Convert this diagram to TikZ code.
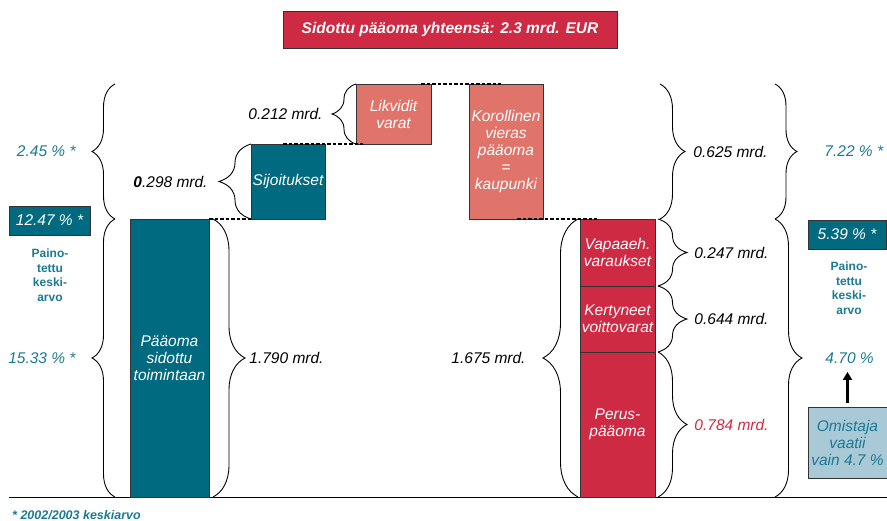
\documentclass[tikz,border=0pt]{standalone}
\usepackage{fontspec}
\setmainfont{Liberation Sans}
\usepackage{xcolor}
\usetikzlibrary{arrows.meta,positioning,calc,decorations.pathreplacing}
\definecolor{cTeal}{HTML}{006A80}
\definecolor{cSalmon}{HTML}{E0746A}
\definecolor{cRed}{HTML}{CF2A43}
\definecolor{cPale}{HTML}{A9C9D6}
\definecolor{cTealTxt}{HTML}{1B7A93}
\definecolor{cEdge}{HTML}{333333}
\tikzset{
  box/.style={draw=cEdge, line width=0.8pt, inner sep=0pt, outer sep=0pt,
              align=center, text=white, anchor=north west,
              font=\fontsize{15.5}{17}\selectfont\itshape},
  tealbox/.style={box, fill=cTeal},
  salbox/.style={box, fill=cSalmon},
  redbox/.style={box, fill=cRed},
  palebox/.style={box, fill=cPale, text=cTealTxt},
  lbl/.style={font=\fontsize{15.5}{17}\selectfont\itshape, inner sep=0pt, text=black},
  pct/.style={lbl, text=cTealTxt},
  avg/.style={font=\fontsize{12}{14.5}\selectfont\bfseries, text=cTealTxt,
              align=center, inner sep=0pt},
  brc/.style={decorate, decoration={brace, amplitude=#1}, line width=0.9pt},
  brc/.default=25,
  link/.style={line width=1.6pt, dash pattern=on 3.5pt off 2pt},
  arr/.style={-{Triangle[length=8pt, width=9pt]}, line width=2.8pt}
}

\begin{document}
\begin{tikzpicture}[x=1pt, y=-1pt]
\useasboundingbox (0,0) rectangle (887,521);
% title
\node[redbox, minimum width=334, minimum height=37,
      font=\fontsize{15.5}{17}\selectfont\bfseries\itshape] (title) at (283,11)
  {Sidottu pääoma yhteensä: 2.3 mrd. EUR};
% base line
\draw[line width=0.9pt] (9,497) -- (887,497);
% assets side
\node[tealbox, minimum width=79, minimum height=278] (bar) at (130,219) {Pääoma\\sidottu\\toimintaan};
\node[tealbox, minimum width=74, minimum height=75] (sijo) at (251,144) {Sijoitukset};
\node[salbox, minimum width=75, minimum height=60] (likv) at (356,84) {Likvidit\\varat};
% liabilities side
\node[salbox, minimum width=74, minimum height=135] (koro) at (469,84) {Korollinen\\vieras\\pääoma\\=\\kaupunki};
\node[redbox, minimum width=75, minimum height=67] (vap) at (580,219) {Vapaaeh.\\varaukset};
\node[redbox, minimum width=75, minimum height=66, below=0pt of vap] (kert) {Kertyneet\\voittovarat};
\node[redbox, minimum width=75, minimum height=145, below=0pt of kert] (perus) {Perus-\\pääoma};
% dashed steps
\draw[link] (bar.north east) -- (sijo.south west);
\draw[link] ($(sijo.north east)+(-42,0)$) -- ($(likv.south west)+(7,0)$);
\draw[link] ($(likv.north east)+(-10,0)$) -- ($(koro.north west)+(32,0)$);
\draw[link] ($(koro.south east)+(-26,0)$) -- ($(vap.north west)+(17,0)$);
% braces, left
\draw[brc=23] (115,219) -- (115,84) node[midway, pct, left=39pt] (r245) {2.45 \% *};
\draw[brc=23] (115,497) -- (115,219) node[midway, pct, left=39pt] (r1533) {15.33 \% *};
\draw[brc=32] ([xshift=4pt]bar.north east) -- ([xshift=4pt]bar.south east)
  node[midway, lbl, right=36pt] (m1790) {1.790 mrd.};
\draw[brc=32] (sijo.south west) -- (sijo.north west)
  node[midway, lbl, left=43pt] (m298) {\textbf{0}.298 mrd.};
\draw[brc=24] (likv.south west) -- (likv.north west)
  node[midway, lbl, left=33pt] (m212) {0.212 mrd.};
% braces, right
\draw[brc=25] (660,84) -- (660,219) node[midway, lbl, right=33pt] (m625) {0.625 mrd.};
\draw[brc=29] ([xshift=3pt]vap.north east) -- ([xshift=3pt]vap.south east)
  node[midway, lbl, right=36pt] (m247) {0.247 mrd.};
\draw[brc=29] ([xshift=3pt]kert.north east) -- ([xshift=3pt]kert.south east)
  node[midway, lbl, right=36pt] (m644) {0.644 mrd.};
\draw[brc=29] ([xshift=3pt]perus.north east) -- ([xshift=3pt]perus.south east)
  node[midway, lbl, right=36pt, text=cRed] (m784) {0.784 mrd.};
\draw[brc=35] ([xshift=-2pt]perus.south west) -- ([xshift=-2pt]vap.north west)
  node[midway, lbl, left=52pt] (m1675) {1.675 mrd.};
\draw[brc=22] (775,84) -- (775,219) node[midway, pct, right=49pt] (r722) {7.22 \% *};
\draw[brc=27] (775,219) -- (775,497) node[midway, pct, right=50pt] (r470) {4.70 \%};
% weighted averages
\node[tealbox, minimum width=81, minimum height=29] (w1) at (9,206) {12.47 \% *};
\node[avg] (avg1) at (50,275) {Paino-\\tettu\\keski-\\arvo};
\node[tealbox, minimum width=78, minimum height=29] (w2) at (808,220) {5.39 \% *};
\node[avg] (avg2) at (849,288) {Paino-\\tettu\\keski-\\arvo};
% owner box
\node[palebox, minimum width=79, minimum height=71] (omis) at (808,407) {Omistaja\\vaatii\\vain 4.7 \%};
\draw[arr, shorten <=4pt] (omis.north) -- (omis.north |- r470.south) [shorten >=8pt];
% footnote
\node[font=\fontsize{12.5}{14}\selectfont\bfseries\itshape, text=cTealTxt,
      anchor=west, inner sep=0pt] (fn) at (12,515) {* 2002/2003 keskiarvo};
\end{tikzpicture}
\end{document}
